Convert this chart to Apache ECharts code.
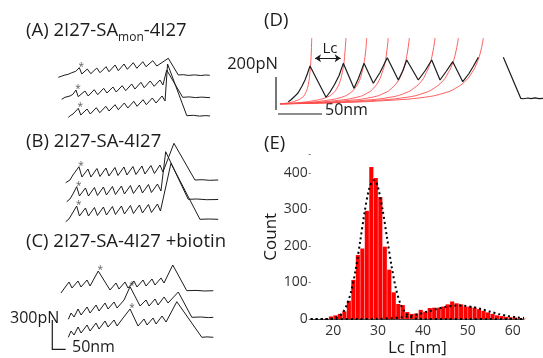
<!DOCTYPE html>
<html>
<head>
<meta charset="utf-8">
<script src="https://cdn.jsdelivr.net/npm/echarts@6/dist/echarts.min.js"></script>
<style>
  html, body { margin: 0; background: #fff; }
  #chart { width: 543px; height: 358px; }
</style>
</head>
<body>
<div id="chart"></div>
<script>
// ---- force traces for panels A-C, [extension nm, force pN] relative to trace start ----
const traceA1 = [[0,0],[14,12],[27,23],[40,30],[54,46],[70,60],[84,96],[94,33],[116,83],[130,36],[154,93],[167,46],[191,106],[203,56],[227,123],[240,66],[263,133],[276,80],[300,146],[314,90],[338,156],[351,106],[378,166],[394,113],[440,190],[480,23],[500,26],[520,19],[545,24],[570,18],[590,23],[606,20]];
const traceA2 = [[0,0],[13,20],[33,33],[45,50],[57,93],[66,26],[93,83],[106,33],[130,96],[144,46],[168,110],[181,63],[205,123],[218,73],[242,136],[256,86],[280,153],[293,103],[317,170],[330,116],[354,183],[370,130],[393,193],[405,143],[420,293],[484,20],[510,24],[535,17],[560,22],[593,16]];
const traceA3 = [[0,0],[10,20],[19,33],[40,90],[50,23],[75,83],[88,33],[112,96],[126,46],[150,110],[163,63],[187,126],[200,76],[224,143],[238,93],[262,160],[275,110],[299,176],[312,126],[336,193],[351,143],[375,213],[387,163],[397,533],[474,16],[500,20],[525,12],[550,17],[567,13]];
const traceB1 = [[0,0],[17,27],[29,77],[53,160],[65,57],[89,137],[101,57],[125,142],[137,62],[161,147],[173,67],[197,152],[209,72],[233,157],[245,77],[269,162],[281,82],[305,167],[317,87],[341,172],[355,92],[377,177],[389,107],[433,394],[517,27],[545,30],[575,24],[610,27]];
const traceB2 = [[0,0],[13,27],[25,77],[40,150],[51,57],[75,137],[87,57],[111,142],[123,62],[147,147],[159,67],[183,152],[195,72],[219,157],[231,77],[255,162],[267,82],[291,167],[303,87],[327,172],[339,92],[363,177],[377,107],[396,500],[486,24],[520,27],[560,20],[606,22]];
const traceB3 = [[0,0],[13,27],[25,77],[44,157],[55,57],[79,137],[91,57],[115,142],[127,62],[151,147],[163,67],[187,152],[199,72],[223,157],[235,77],[259,162],[271,82],[295,167],[307,87],[331,172],[343,92],[367,177],[379,107],[421,584],[537,24],[570,27],[610,24]];
const traceC1 = [[0,0],[20,70],[32,110],[44,50],[68,120],[80,60],[104,130],[116,70],[149,220],[196,30],[220,100],[232,40],[256,110],[268,50],[292,120],[304,60],[328,130],[340,70],[364,140],[376,80],[400,150],[412,100],[447,280],[503,23],[540,26],[575,20],[609,23]];
const traceC2 = [[0,0],[11,63],[23,23],[39,103],[51,43],[75,123],[87,63],[111,143],[123,83],[147,163],[159,103],[183,173],[195,113],[223,193],[247,326],[287,133],[311,193],[323,133],[347,203],[359,143],[383,223],[399,163],[440,273],[494,20],[530,23],[560,17],[580,20]];
const traceC3 = [[0,0],[11,63],[23,23],[39,103],[51,43],[75,123],[87,63],[111,143],[123,83],[147,163],[159,103],[183,173],[195,113],[219,193],[247,283],[279,113],[303,183],[315,123],[339,193],[351,133],[375,213],[391,153],[434,356],[534,0],[555,4],[580,0]];
// index of the peak marked with an asterisk in each trace
const asteriskIdx = [6, 4, 3, 3, 3, 3, 8, 14, 14];

// ---- panel D: one trace with worm-like-chain fits ----
const dTrace = [[7.3,15],[10,30],[11.5,24],[13.2,53],[16,75],[17.5,68],[19.4,120],[22,160],[24,200],[26.4,253],[40.5,45],[44,80],[48,130],[52,190],[55.7,271],[65.1,105],[69,170],[73.9,271],[82.1,138],[88,210],[94.4,309],[104.1,160],[108,220],[111.5,293],[121.7,160],[128,225],[133.5,293],[140.8,160],[146,215],[152,282],[160.8,149],[166,200],[170,250],[174.5,311]];
const dTraceEnd = [[196.5,311],[211.8,38],[214,35],[218.2,40],[221,36],[224.4,41],[228,36],[231.4,38]];
const wlcForce = [0,10,22,45,75,105,155,210,260,340,440];
const wlcExt = [
  [0,8.5,14.2,19.8,22.6,24.1,25.5,26.3,26.9,27.5,27.9],
  [0,17.7,29.5,41.2,47.1,50.1,53.0,54.8,56.0,57.1,58.0],
  [0,23.3,38.8,54.3,62.0,65.9,69.8,72.1,73.6,75.2,76.3],
  [0,29.0,48.4,67.7,77.4,82.2,87.0,89.9,91.9,93.8,95.2],
  [0,34.7,57.8,80.9,92.4,98.2,104.0,107.4,109.7,112.0,113.8],
  [0,41.6,69.3,97.0,110.8,117.7,124.7,128.8,131.6,134.3,136.4],
  [0,47.8,79.7,111.5,127.4,135.4,143.4,148.1,151.3,154.5,156.9],
  [0,54.5,90.8,127.1,145.3,154.4,163.4,168.9,172.5,176.2,178.9]
];

// ---- panel E: Lc histogram ----
const binCenters = [18.5,19.5,20.5,21.5,22.5,23.5,24.5,25.5,26.5,27.5,28.5,29.5,30.5,31.5,32.5,33.5,34.5,35.5,36.5,37.5,38.5,39.5,40.5,41.5,42.5,43.5,44.5,45.5,46.5,47.5,48.5,49.5,50.5,51.5,52.5,53.5,54.5,55.5,56.5,57.5,58.5,59.5,60.5,61.5,62.5];
const binCounts = [1,7,10,14,21,50,107,175,193,296,416,386,334,198,135,73,41,38,19,14,15,25,20,30,31,31,34,40,48,43,40,34,34,31,27,22,18,14,10,8,6,5,4,2,1];
const fitAX = [15,18,20,21,22,23,24,25,26,27,28,29,29.5,30,31,32,33,34,35,36,37,38,39,40,45,50,55,62.5];
const fitAY = [0,0,1.8,6,15,37,75,134,211,292,356,380,376,360,300,222,145,82,41,18,7,2,0.7,0,0,0,0,0];
const fitBX = [15,25,30,33,35,37,39,41,43,45,47,48,49,51,53,55,57,59,61,62.5];
const fitBY = [0,0,0.6,2.2,4.4,8,13.3,20,27,33,36.5,37,36.5,33,27,20,13.3,8,4.4,3];
const countTicks = [0, 100, 200, 300, 400];

const FONT = '"Open Sans", sans-serif';
const INK = '#1c1c1c';
const TITLE = 18.5;

const chart = echarts.init(document.getElementById('chart'), null, { renderer: 'canvas' });

// left panel: 1 px = 4 nm across, 10 pN up; traces placed by their start pixel
const traces = [traceA1, traceA2, traceA3, traceB1, traceB2, traceB3, traceC1, traceC2, traceC3];
const starts = [[58.3,77.3],[61.7,99.3],[68.3,117.3],[65.7,182.7],[66.7,201.7],[65.7,221.7],[61,293],[68.3,319.3],[68.3,337.3]];
const placed = traces.map((t, i) => {
  const ox = starts[i][0] * 4, oy = (358 - starts[i][1]) * 10;
  return t.map(p => [p[0] + ox, p[1] + oy]);
});

const series = [];
placed.forEach(d => {
  series.push({
    type: 'line', xAxisIndex: 0, yAxisIndex: 0, data: d, showSymbol: false,
    lineStyle: { color: INK, width: 1 }, silent: true, animation: false
  });
});
series.push({
  type: 'scatter', xAxisIndex: 0, yAxisIndex: 0, symbolSize: 0, animation: false,
  data: placed.map((d, i) => d[asteriskIdx[i]]),
  label: { show: true, formatter: '*', position: 'top', distance: 0, offset: [2, 4], fontSize: 10, color: '#333' }
});

wlcExt.forEach(ext => {
  series.push({
    type: 'line', xAxisIndex: 1, yAxisIndex: 1, smooth: true, showSymbol: false, animation: false,
    data: ext.map((x, k) => [x, wlcForce[k]]),
    lineStyle: { color: '#ff4d4d', width: 0.9 }
  });
});
[dTrace, dTraceEnd].forEach(d => {
  series.push({
    type: 'line', xAxisIndex: 1, yAxisIndex: 1, showSymbol: false, animation: false, z: 5,
    data: d, lineStyle: { color: INK, width: 1.2 }
  });
});
series[series.length - 2].markLine = {
  silent: true, symbol: ['arrow', 'arrow'], symbolSize: 6, animation: false,
  lineStyle: { color: INK, width: 1, type: 'solid' }, label: { show: false },
  data: [[{ coord: [30.8, 305] }, { coord: [53.4, 305] }]]
};

series.push({
  type: 'bar', xAxisIndex: 2, yAxisIndex: 2, animation: false, barWidth: 4.1,
  data: binCenters.map((c, i) => [c, binCounts[i]]),
  itemStyle: { color: '#ff0000' }
});
[[fitAX, fitAY], [fitBX, fitBY]].forEach(f => {
  series.push({
    type: 'line', xAxisIndex: 2, yAxisIndex: 2, smooth: 0.3, showSymbol: false, animation: false, z: 6,
    data: f[0].map((x, i) => [x, f[1][i]]),
    lineStyle: { color: '#000', width: 2, type: [2, 3] }
  });
});

const hidden = { show: false };
const option = {
  backgroundColor: '#fff',
  textStyle: { fontFamily: FONT },
  grid: [
    { left: 0, top: 0, width: 270, height: 358 },
    { left: 280, top: 38, width: 263, height: 66 },
    { left: 310.7, top: 154.6, width: 213.3, bottom: 36 }
  ],
  xAxis: [
    { type: 'value', gridIndex: 0, min: 0, max: 1080, show: false },
    { type: 'value', gridIndex: 1, min: 0, max: 231.4, show: false },
    {
      type: 'value', gridIndex: 2, min: 15, max: 62.5, interval: 5,
      splitLine: hidden, axisTick: hidden,
      axisLine: { lineStyle: { color: '#444', width: 1 } },
      axisLabel: {
        showMaxLabel: false, fontSize: 14, color: '#333', margin: 5, fontFamily: FONT,
        formatter: v => (v % 10 === 0 ? String(v) : '')
      },
      name: 'Lc [nm]', nameLocation: 'middle', nameGap: 21,
      nameTextStyle: { fontSize: 17, color: INK, fontFamily: FONT }
    }
  ],
  yAxis: [
    { type: 'value', gridIndex: 0, min: 0, max: 3580, show: false },
    { type: 'value', gridIndex: 1, min: 0, max: 440, show: false },
    {
      type: 'value', gridIndex: 2, min: 0, max: 450, interval: 100,
      splitLine: hidden, axisLine: hidden,
      axisTick: { show: true, length: 2, lineStyle: { color: '#777' } },
      axisLabel: {
        fontSize: 14, color: '#333', margin: 3, fontFamily: FONT,
        formatter: v => (countTicks.includes(v) ? String(v) : '')
      },
      name: 'Count', nameLocation: 'middle', nameGap: 21, nameRotate: 90,
      nameTextStyle: { fontSize: 17, color: INK, fontFamily: FONT }
    }
  ],
  graphic: [
    {
      type: 'text', x: 26, y: 31,
      style: {
        text: '{n|(A) 2I27-SA}{s|mon}{n|-4I27}', verticalAlign: 'middle',
        rich: {
          n: { fontSize: TITLE, fontFamily: FONT, fill: INK },
          s: { fontSize: 12, fontFamily: FONT, fill: INK, padding: [13, 0, 0, 0] }
        }
      }
    },
    { type: 'text', x: 26, y: 142, style: { text: '(B) 2I27-SA-4I27', fontSize: TITLE, fontFamily: FONT, fill: INK, verticalAlign: 'middle' } },
    { type: 'text', x: 26, y: 242, style: { text: '(C) 2I27-SA-4I27 +biotin', fontSize: TITLE, fontFamily: FONT, fill: INK, verticalAlign: 'middle' } },
    { type: 'text', x: 264, y: 21, style: { text: '(D)', fontSize: TITLE, fontFamily: FONT, fill: INK, verticalAlign: 'middle' } },
    { type: 'text', x: 264, y: 144, style: { text: '(E)', fontSize: TITLE, fontFamily: FONT, fill: INK, verticalAlign: 'middle' } },
    { type: 'text', x: 10, y: 318, style: { text: '300pN', fontSize: 16, fontFamily: FONT, fill: INK, verticalAlign: 'middle' } },
    { type: 'text', x: 72, y: 347, style: { text: '50nm', fontSize: 16, fontFamily: FONT, fill: INK, verticalAlign: 'middle' } },
    { type: 'text', x: 278, y: 64, style: { text: '200pN', fontSize: 16.5, fontFamily: FONT, fill: INK, align: 'right', verticalAlign: 'middle' } },
    { type: 'text', x: 325, y: 110, style: { text: '50nm', fontSize: 16, fontFamily: FONT, fill: INK, verticalAlign: 'middle' } },
    { type: 'text', x: 330, y: 49, style: { text: 'Lc', fontSize: 15, fontFamily: FONT, fill: INK, align: 'center', verticalAlign: 'middle' } },
    { type: 'polyline', shape: { points: [[52.3, 320], [52.3, 349.3], [65.7, 349.3]] }, style: { stroke: INK, lineWidth: 1.2, fill: null } },
    { type: 'polyline', shape: { points: [[276, 77], [276, 110]] }, style: { stroke: INK, lineWidth: 1.2, fill: null } },
    { type: 'polyline', shape: { points: [[278, 114], [322, 114]] }, style: { stroke: INK, lineWidth: 1.2, fill: null } }
  ],
  series: series
};

chart.setOption(option);
window.addEventListener('resize', () => chart.resize());
</script>
</body>
</html>
